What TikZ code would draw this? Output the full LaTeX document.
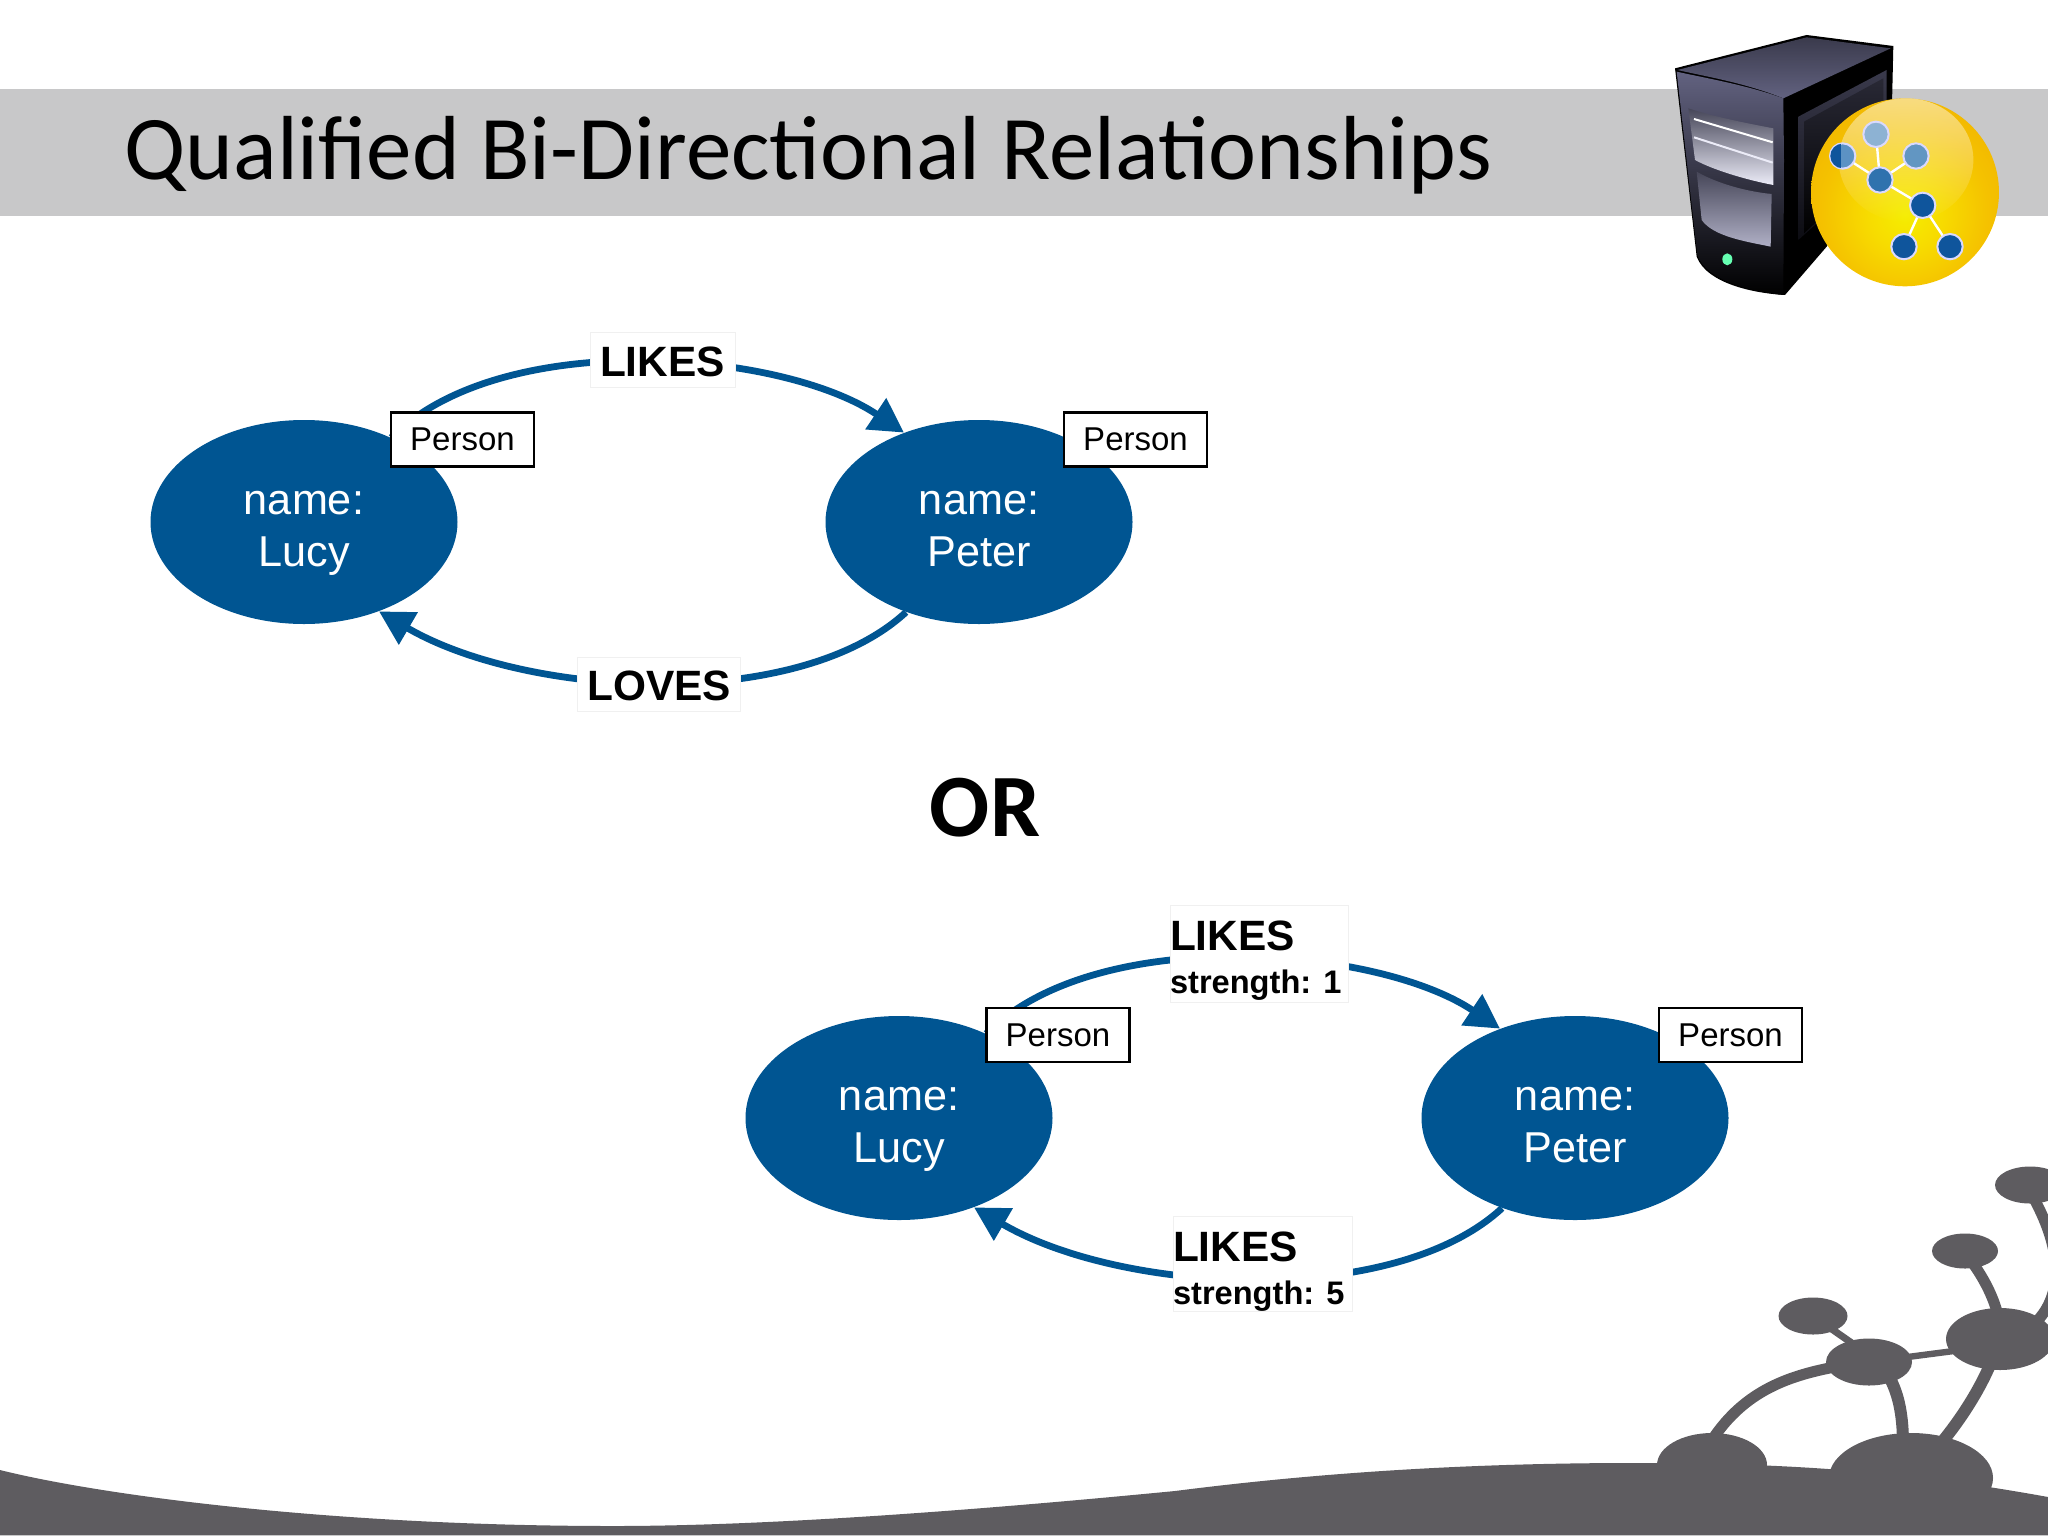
\documentclass[tikz,border=0pt]{standalone}
\usepackage{fontspec}
\setmainfont{Liberation Sans}
\newfontfamily\titlefont{Carlito}[Ligatures=Common]
\usetikzlibrary{shapes.geometric,arrows.meta,fadings}
\definecolor{nodeblue}{RGB}{0,85,146}
\definecolor{band}{RGB}{200,200,201}
\definecolor{ink}{RGB}{94,92,96}
\definecolor{srvlight}{RGB}{98,98,128}
\definecolor{srvmid}{RGB}{58,58,76}
\definecolor{srvdark}{RGB}{12,12,18}
\definecolor{bay1}{RGB}{70,70,88}
\definecolor{bay2}{RGB}{176,176,198}
\definecolor{bay3}{RGB}{236,236,248}
\definecolor{b1}{RGB}{141,178,211}
\definecolor{b2}{RGB}{92,146,196}
\definecolor{b3}{RGB}{98,150,194}
\definecolor{b4}{RGB}{47,114,174}
\definecolor{b5}{RGB}{15,85,156}
\pgfdeclareradialshading{yball}{\pgfpoint{0bp}{-6bp}}{
  rgb(0bp)=(.96,.93,0); rgb(10bp)=(.97,.86,0); rgb(22bp)=(.96,.76,0); rgb(36bp)=(.94,.69,0); rgb(100bp)=(.94,.69,0)}
\tikzset{
  person/.style={ellipse,fill=nodeblue,minimum width=153.5pt,minimum height=102pt,inner sep=0pt,
    text=white,align=center,font=\fontsize{21.6}{26}\selectfont},
  tag/.style={rectangle,draw=black,line width=1.2pt,fill=white,minimum width=71.5pt,minimum height=27pt,inner sep=0pt,
    font=\fontsize{16.5}{20}\selectfont},
  rel/.style={rectangle,draw=black!6,line width=.5pt,fill=white,inner sep=0pt,font=\bfseries\fontsize{21.2}{21.5}\selectfont},
  relq/.style={rel,align=left},
  conn/.style={draw=nodeblue,line width=3.4pt,-{Triangle[length=17pt,width=18pt]}},
  ball/.style={draw=white!85!blue,line width=1pt},
  lnk/.style={draw=ink},
}
\newcommand{\persontext}[2]{\rule{0pt}{23.3pt}#1\\#2\vphantom{y}}
\newcommand{\reltext}[1]{\rule{0pt}{17pt}#1}
\newcommand{\relstrength}[3]{\makebox[#3][l]{\rule{0pt}{22.2pt}#1}\\\makebox[#3][l]{\fontsize{16.3}{21.5}\selectfont #2}}
\begin{document}
\begin{tikzpicture}[x=.5pt,y=-.5pt]
\useasboundingbox (0,0) rectangle (2048,1536);
\clip (0,0) rectangle (2048,1536);
\fill[white] (0,0) rectangle (2048,1536);
\fill[band] (0,89) rectangle (2048,216);
\node[anchor=base west,inner sep=0pt,font=\titlefont\fontsize{45.5}{50}\selectfont] (title) at (124,179) {Qualified Bi-Directional Relationships};
\node[inner sep=0pt,font=\titlefont\bfseries\fontsize{44.5}{50}\selectfont] (or) at (985,808) {OR};

% server icon
\begin{scope}[shift={(1620,20)},scale=.3333]
\fill[black] (165,145) -- (560,45) -- (820,78) -- (815,300) -- (620,680) -- (495,825) .. controls (400,820) and (260,790) .. (230,710) -- cycle;
\shade[top color=srvmid,bottom color=srvdark] (535,290) -- (800,150) -- (800,420) -- (535,660) -- cycle;
\shade[top color=srvmid!70!black,bottom color=black] (552,305) -- (790,175) -- (790,420) -- (552,640) -- cycle;
\shade[top color=srvmid,bottom color=srvlight] (172,150) -- (560,52) -- (812,85) -- (490,235) .. controls (380,190) and (260,170) .. cycle;
\shade[top color=srvlight,middle color=srvmid!60!black,bottom color=black] (170,155) .. controls (260,175) and (380,195) .. (490,235) -- (492,420) -- (490,825) .. controls (400,815) and (260,785) .. (232,705) -- cycle;
\shade[top color=bay1,middle color=bay2,bottom color=bay3] (205,265) .. controls (280,290) and (380,310) .. (460,325) -- (460,495) .. controls (380,480) and (280,450) .. (225,420) -- cycle;
\draw[white,line width=1pt] (222,297) -- (458,367);
\draw[bay3,line width=1pt] (222,352) -- (458,428);
\shade[top color=bay1,bottom color=bay2] (230,455) .. controls (290,490) and (380,515) .. (455,522) -- (452,680) .. controls (380,665) and (280,650) .. (245,600) -- cycle;
\fill[green!50!cyan!60!white] (322,718) ellipse (15 and 18);
% yellow ball
\shade[shading=yball] (855,517) circle (282);
\fill[white,opacity=.5,path fading=south] (858,420) ellipse (202 and 185);
\foreach \a/\b in {768/343,668/408,888/408,908/556}{\draw[white,line width=1.2pt] (780,480) -- (\a,\b);}
\draw[white,line width=1.2pt] (852,680) -- (908,556) -- (990,680);
\filldraw[ball,fill=b1] (768,343) circle (38);
\filldraw[ball,fill=b2] (668,408) circle (38);
\begin{scope}
\clip (668,408) circle (37);
\fill[b5] (625,360) rectangle (663,456);
\end{scope}
\filldraw[ball,fill=b3] (888,408) circle (38);
\filldraw[ball,fill=b4] (780,480) circle (38);
\filldraw[ball,fill=b5] (908,556) circle (38);
\filldraw[ball,fill=b5] (852,680) circle (38);
\filldraw[ball,fill=b5] (990,680) circle (38);
\end{scope}

% top graph
\node[person] (lucyA) at (304,522) {\persontext{name:}{Lucy}};
\node[person] (peterA) at (979,522) {\persontext{name:}{Peter}};
\draw[conn] (lucyA.44) .. controls +(109,-110) and +(-124,-83) .. (peterA.130);
\draw[conn] (peterA.-129) .. controls +(-108,100) and +(149,87) .. (lucyA.-50);
\node[tag] (tagLA) at (462.5,439.5) {Person};
\node[tag] (tagPA) at (1135.5,439.5) {Person};
\node[rel,minimum width=72.5pt,minimum height=27.5pt] (likesA) at (662.5,360) {\reltext{LIKES}};
\node[rel,minimum width=81.5pt,minimum height=27pt] (lovesA) at (659,684) {\reltext{LOVES}};

% bottom graph
\node[person] (lucyB) at (899,1118) {\persontext{name:}{Lucy}};
\node[person] (peterB) at (1575,1118) {\persontext{name:}{Peter}};
\draw[conn] (lucyB.44) .. controls +(109,-110) and +(-124,-83) .. (peterB.130);
\draw[conn] (peterB.-129) .. controls +(-108,100) and +(149,87) .. (lucyB.-50);
\node[tag] (tagLB) at (1058,1035) {Person};
\node[tag] (tagPB) at (1730.5,1035) {Person};
\node[relq,minimum height=48.5pt] (likesB) at (1259,953.5) {\relstrength{LIKES}{strength: 1}{89pt}};
\node[relq,minimum height=47pt] (likesC) at (1262.5,1264) {\relstrength{LIKES}{strength: 5}{89.5pt}};

% bottom-right decoration
\fill[ink] (0,1470) .. controls (100,1495) and (330,1526) .. (614,1526)
  .. controls (800,1526) and (1050,1503) .. (1175,1491)
  .. controls (1300,1475) and (1450,1463) .. (1633,1463)
  .. controls (1780,1463) and (1900,1470) .. (2048,1497) -- (2048,1535) -- (0,1535) -- cycle;
\fill[band] (0,1535) rectangle (2048,1536);
\draw[lnk,line width=5.5pt] (1712,1440) .. controls (1745,1390) and (1790,1375) .. (1840,1366);
\draw[lnk,line width=6pt] (1888,1375) .. controls (1900,1395) and (1903,1420) .. (1903,1445);
\draw[lnk,line width=3.2pt] (1869,1362) -- (2000,1345);
\draw[lnk,line width=3.5pt] (1813,1316) -- (1869,1355);
\draw[lnk,line width=6pt] (1992,1360) .. controls (1980,1390) and (1960,1420) .. (1942,1442);
\draw[lnk,line width=5.5pt] (1972,1262) .. controls (1985,1280) and (1995,1300) .. (1999,1320);
\draw[lnk,line width=5.5pt] (2032,1195) .. controls (2060,1245) and (2065,1290) .. (2038,1320);
\fill[ink] (2030,1185) ellipse (35 and 18.5);
\fill[ink] (1965,1251) ellipse (33 and 17.5);
\fill[ink] (1813,1316) ellipse (34.5 and 18.5);
\fill[ink] (1869,1362) ellipse (43 and 23.5);
\fill[ink] (2000,1339) ellipse (54 and 31);
\fill[ink] (1712,1465) ellipse (55 and 32);
\fill[ink] (1911,1478) ellipse (82 and 45);
\end{tikzpicture}
\end{document}
